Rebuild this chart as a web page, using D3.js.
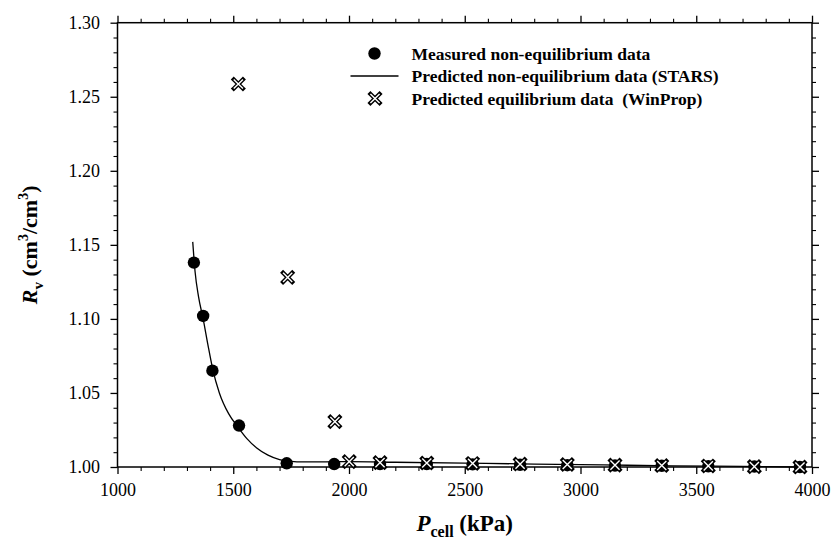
<!DOCTYPE html>
<html>
<head>
<meta charset="utf-8">
<script src="https://cdn.jsdelivr.net/npm/d3@7"></script>
<style>
  body { margin: 0; background: #fff; }
  svg text { font-family: "Liberation Serif", "Times New Roman", serif; white-space: pre; }
</style>
</head>
<body>
<div id="chart"></div>
<script>
// measured non-equilibrium data
const measuredP = [1330, 1370, 1410, 1525, 1731, 1936, 2134, 2336, 2534, 2739, 2943, 3149, 3351, 3552, 3751, 3948];
const measuredRv = [1.138, 1.102, 1.065, 1.028, 1.0025, 1.002, 1.002, 1.002, 1.0018, 1.0015, 1.0012, 1.001, 1.0008, 1.0005, 1.0003, 1.0];

// predicted non-equilibrium (STARS) curve
const starsP = [1325, 1335, 1350, 1370, 1390, 1410, 1440, 1480, 1520, 1560, 1600, 1650, 1700, 1750, 1800, 1900, 2000, 2200, 2500, 2800, 3100, 3400, 3700, 3950];
const starsRv = [1.152, 1.132, 1.115, 1.100, 1.083, 1.067, 1.050, 1.036, 1.027, 1.019, 1.013, 1.008, 1.005, 1.0038, 1.0034, 1.0035, 1.0036, 1.0032, 1.0026, 1.002, 1.0014, 1.0008, 1.0004, 1.0];

// predicted equilibrium (WinProp)
const winpropP = [1522, 1735, 1939, 2001, 2134, 2336, 2534, 2739, 2943, 3149, 3351, 3552, 3751, 3948];
const winpropRv = [1.2586, 1.128, 1.0306, 1.0036, 1.003, 1.0027, 1.0024, 1.002, 1.0017, 1.0013, 1.001, 1.0007, 1.0003, 1.0];

const xTicks = [1000, 1500, 2000, 2500, 3000, 3500, 4000];
const yTicks = [1.00, 1.05, 1.10, 1.15, 1.20, 1.25, 1.30];
const legendLabels = [
  "Measured non-equilibrium data",
  "Predicted non-equilibrium data (STARS)",
  "Predicted equilibrium data  (WinProp)"
];

const W = 834, H = 545;
const margin = { top: 22.7, right: 22, bottom: 78, left: 117.5 };

const svg = d3.select("#chart").append("svg")
  .attr("width", W)
  .attr("height", H);

const x = d3.scaleLinear().domain([1000, 4000]).range([margin.left, W - margin.right]);
const y = d3.scaleLinear().domain([1.00, 1.30]).range([H - margin.bottom, margin.top]);

const x0 = x.range()[0], x1 = x.range()[1];
const y0 = y.range()[0], y1 = y.range()[1];

// frame
svg.append("rect")
  .attr("x", x0).attr("y", y1)
  .attr("width", x1 - x0).attr("height", y0 - y1)
  .attr("fill", "none").attr("stroke", "#000").attr("stroke-width", 1.5);

const xMinor = d3.range(1000, 4001, 100).filter(v => v % 500 !== 0);
const yMinor = d3.range(0, 31).map(i => 1 + i * 0.01).filter((v, i) => i % 5 !== 0);

function ticks(axisFn, pos, major, minor, withLabels, fmt) {
  const g = svg.append("g").attr("transform", pos);
  g.call(axisFn(major === "x" ? x : y).tickValues(major === "x" ? xTicks : yTicks)
    .tickSize(7).tickFormat(withLabels ? fmt : ""));
  g.select(".domain").remove();
  g.selectAll(".tick line").attr("stroke-width", 1.3);
  g.selectAll("text").attr("font-size", 18).attr("fill", "#000")
    .style("font-family", '"Liberation Serif", serif');
  const gm = svg.append("g").attr("transform", pos);
  gm.call(axisFn(major === "x" ? x : y).tickValues(minor).tickSize(4).tickFormat(""));
  gm.select(".domain").remove();
  gm.selectAll(".tick line").attr("stroke-width", 1.1);
  return g;
}

const fx = d3.format("d"), fy = d3.format(".2f");
ticks(d3.axisBottom, `translate(0,${y0})`, "x", xMinor, true, fx)
  .selectAll("text").attr("dy", "1.05em");
ticks(d3.axisTop, `translate(0,${y1})`, "x", xMinor, false, fx);
ticks(d3.axisLeft, `translate(${x0},0)`, "y", yMinor, true, fy)
  .selectAll("text").attr("x", -17.5);
ticks(d3.axisRight, `translate(${x1},0)`, "y", yMinor, false, fy);

// STARS curve
const starsData = starsP.map((p, i) => ({ p, r: starsRv[i] }));
svg.append("path")
  .datum(starsData)
  .attr("fill", "none")
  .attr("stroke", "#000")
  .attr("stroke-width", 1.3)
  .attr("d", d3.line().x(d => x(d.p)).y(d => y(d.r)).curve(d3.curveMonotoneX));

// measured circles
const measured = measuredP.map((p, i) => ({ p, r: measuredRv[i] }));
svg.append("g").selectAll("circle")
  .data(measured)
  .join("circle")
  .attr("cx", d => x(d.p))
  .attr("cy", d => y(d.r))
  .attr("r", 6.2)
  .attr("fill", "#000");

// cross marker
function crossAt(g, cx, cy) {
  const s = 4.6;
  const dPath = `M${cx - s},${cy - s}L${cx + s},${cy + s}M${cx - s},${cy + s}L${cx + s},${cy - s}`;
  g.append("path").attr("d", dPath).attr("stroke", "#000").attr("stroke-width", 4.2).attr("stroke-linecap", "square");
  g.append("path").attr("d", dPath).attr("stroke", "#fff").attr("stroke-width", 1.4).attr("stroke-linecap", "butt");
}

const winprop = winpropP.map((p, i) => ({ p, r: winpropRv[i] }));
const gx = svg.append("g");
winprop.forEach(d => crossAt(gx, x(d.p), y(d.r)));

// legend
const leg = svg.append("g");
const legTextX = 411.5, rowY = [53.5, 76, 98.5];
leg.append("circle").attr("cx", 374.5).attr("cy", rowY[0]).attr("r", 6.2).attr("fill", "#000");
leg.append("line").attr("x1", 350.5).attr("x2", 398.5).attr("y1", rowY[1]).attr("y2", rowY[1])
  .attr("stroke", "#000").attr("stroke-width", 1.3);
crossAt(leg, 375, rowY[2]);
legendLabels.forEach((t, i) => {
  leg.append("text")
    .attr("x", legTextX).attr("y", rowY[i] + 6)
    .attr("font-size", 17.5).attr("font-weight", "bold")
    .text(t);
});

// x title
const xt = svg.append("text")
  .attr("x", (x0 + x1) / 2).attr("y", 531)
  .attr("text-anchor", "middle")
  .attr("font-size", 23).attr("font-weight", "bold");
xt.append("tspan").attr("font-style", "italic").text("P");
xt.append("tspan").attr("font-size", 16).attr("dy", 6).text("cell");
xt.append("tspan").attr("dy", -6).text(" (kPa)");

// y title
const yt = svg.append("text")
  .attr("transform", `translate(37,${(y0 + y1) / 2}) rotate(-90)`)
  .attr("text-anchor", "middle")
  .attr("font-size", 22).attr("font-weight", "bold");
yt.append("tspan").attr("font-style", "italic").text("R");
yt.append("tspan").attr("font-size", 15).attr("dy", 6).text("v");
yt.append("tspan").attr("dy", -6).text(" (cm");
yt.append("tspan").attr("font-size", 14).attr("dy", -9).text("3");
yt.append("tspan").attr("dy", 9).text("/cm");
yt.append("tspan").attr("font-size", 14).attr("dy", -9).text("3");
yt.append("tspan").attr("dy", 9).text(")");
</script>
</body>
</html>
